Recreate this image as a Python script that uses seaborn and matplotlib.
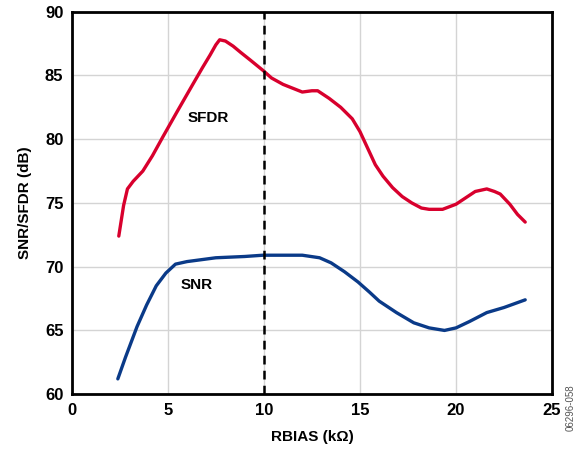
import matplotlib
matplotlib.use("Agg")
import matplotlib.pyplot as plt
import seaborn as sns
import pandas as pd

# === Data ===
sfdr_x = [2.45, 2.7, 2.9, 3.2, 3.7, 4.2, 4.75, 5.5, 6.3, 6.8, 7.2, 7.5, 7.7, 8.0, 8.4, 8.8, 9.3, 9.95,
          10.4, 11.0, 11.5, 12.0, 12.5, 12.8, 13.4, 14.0, 14.6, 15.0, 15.4, 15.8, 16.2, 16.7, 17.2,
          17.7, 18.2, 18.6, 19.3, 20.0, 20.5, 21.0, 21.6, 22.0, 22.3, 22.8, 23.2, 23.6]
sfdr_y = [72.4, 74.8, 76.1, 76.7, 77.5, 78.7, 80.2, 82.2, 84.3, 85.6, 86.6, 87.4, 87.8, 87.7, 87.3,
          86.8, 86.2, 85.4, 84.8, 84.3, 84.0, 83.7, 83.8, 83.8, 83.2, 82.5, 81.6, 80.6, 79.3, 78.0,
          77.1, 76.2, 75.5, 75.0, 74.6, 74.5, 74.5, 74.9, 75.4, 75.9, 76.1, 75.9, 75.7, 74.9, 74.1, 73.5]

snr_x = [2.4, 2.8, 3.4, 3.9, 4.4, 4.9, 5.4, 6.0, 7.5, 9.0, 9.95, 10.8, 12.0, 12.9, 13.5, 14.2, 14.9,
         15.5, 16.0, 16.9, 17.8, 18.6, 19.4, 20.0, 20.7, 21.6, 22.5, 23.6]
snr_y = [61.2, 62.9, 65.3, 67.0, 68.5, 69.5, 70.2, 70.4, 70.7, 70.8, 70.9, 70.9, 70.9, 70.7, 70.3,
         69.6, 68.8, 68.0, 67.3, 66.4, 65.6, 65.2, 65.0, 65.2, 65.7, 66.4, 66.8, 67.4]

x_ticks = [0, 5, 10, 15, 20, 25]
y_ticks = [60, 65, 70, 75, 80, 85, 90]

sfdr = pd.DataFrame({"RBIAS": sfdr_x, "dB": sfdr_y})
snr = pd.DataFrame({"RBIAS": snr_x, "dB": snr_y})

# === Style ===
sns.set_style("white")
plt.rcParams["font.family"] = ["Liberation Sans", "DejaVu Sans"]
plt.rcParams["font.weight"] = "bold"
plt.rcParams["text.color"] = "black"
plt.rcParams["axes.labelcolor"] = "black"
plt.rcParams["xtick.color"] = "black"
plt.rcParams["ytick.color"] = "black"

fig, ax = plt.subplots(figsize=(5.83, 4.51), dpi=100)
fig.subplots_adjust(left=0.123, right=0.947, top=0.974, bottom=0.126)

sns.lineplot(data=sfdr, x="RBIAS", y="dB", ax=ax, color="#d8002d", linewidth=2.4,
             sort=False, estimator=None)
sns.lineplot(data=snr, x="RBIAS", y="dB", ax=ax, color="#0a3a88", linewidth=2.4,
             sort=False, estimator=None)
ax.axvline(10, color="black", linestyle=(0, (3.5, 2.5)), linewidth=1.8)

ax.set_xlim(0, 25)
ax.set_ylim(60, 90)
ax.set_xticks(x_ticks)
ax.set_yticks(y_ticks)
ax.grid(True, color="#d4d4d4", linewidth=1)
ax.set_axisbelow(True)
for s in ax.spines.values():
    s.set_color("black")
    s.set_linewidth(2)
ax.tick_params(axis="both", labelsize=12, length=0, pad=6)
for lbl in ax.get_xticklabels() + ax.get_yticklabels():
    lbl.set_fontweight("bold")

ax.set_xlabel("RBIAS (kΩ)", fontsize=11, fontweight="bold", labelpad=9)
ax.set_ylabel("SNR/SFDR (dB)", fontsize=11, fontweight="bold", labelpad=9)

ax.text(7.1, 81.7, "SFDR", fontsize=11, fontweight="bold", ha="center", va="center")
ax.text(6.5, 68.6, "SNR", fontsize=11, fontweight="bold", ha="center", va="center")

fig.text(0.978, 0.095, "06296-058", rotation=90, fontsize=7, color="#555555",
         fontweight="normal", ha="center", va="center")

fig.savefig("out.png", dpi=100)
